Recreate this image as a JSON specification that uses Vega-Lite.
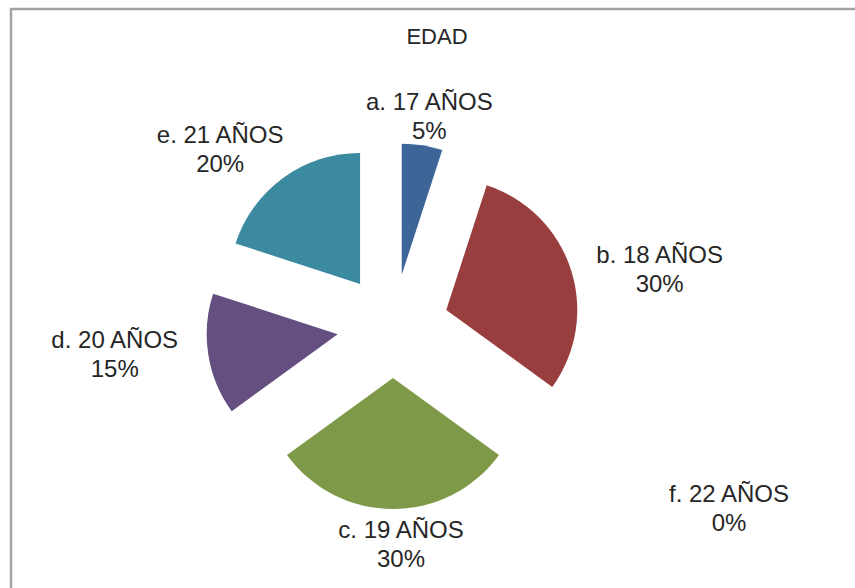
{
  "$schema": "https://vega.github.io/schema/vega-lite/v6.json",
  "autosize": "none",
  "padding": {"left": 11, "top": 9, "right": 0, "bottom": 0},
  "width": 880,
  "height": 634,
  "background": "#ffffff",
  "view": {"stroke": "#a3a3a3", "strokeWidth": 2.5, "fill": "#ffffff"},
  "config": {
    "font": "Liberation Sans"
  },
  "title": {
    "text": "EDAD",
    "fontSize": 22,
    "font": "Liberation Sans",
    "fontWeight": "normal",
    "color": "#262626",
    "offset": -40,
    "dx": -14
  },
  "data": {
    "values": [
      {"cat": "a. 17 AÑOS", "value": 5},
      {"cat": "b. 18 AÑOS", "value": 30},
      {"cat": "c. 19 AÑOS", "value": 30},
      {"cat": "d. 20 AÑOS", "value": 15},
      {"cat": "e. 21 AÑOS", "value": 20},
      {"cat": "f. 22 AÑOS", "value": 0}
    ]
  },
  "transform": [
    {"stack": "value", "groupby": [], "sort": [{"field": "cat", "order": "ascending"}], "as": ["v0", "v1"]}
  ],
  "layer": [
    {
      "mark": {
        "type": "arc",
        "outerRadius": 131,
        "xOffset": {"expr": "-58 + 56*sin((datum.v0+datum.v1)*PI/100)"},
        "yOffset": {"expr": "-52*cos((datum.v0+datum.v1)*PI/100)"}
      },
      "encoding": {
        "theta": {"field": "v0", "type": "quantitative", "stack": null, "scale": {"domain": [0, 100], "range": [0, 6.283185307179586]}},
        "theta2": {"field": "v1"},
        "color": {
          "field": "cat",
          "type": "nominal",
          "legend": null,
          "scale": {
            "domain": ["a. 17 AÑOS", "b. 18 AÑOS", "c. 19 AÑOS", "d. 20 AÑOS", "e. 21 AÑOS", "f. 22 AÑOS"],
            "range": ["#3d6597", "#993e3e", "#7e9a48", "#654f80", "#3c8aa0", "#f0904a"]
          }
        }
      }
    },
    {
      "mark": {
        "type": "text",
        "font": "Liberation Sans",
        "fontSize": 24,
        "lineHeight": 29,
        "align": "center",
        "baseline": "middle",
        "color": "#262626",
        "text": {"expr": "[datum.cat, datum.value + '%']"},
        "xOffset": {"expr": "-58 + (datum.value == 0 ? 336 : 283*sin((datum.v0+datum.v1)*PI/100) - 8*cos((datum.v0+datum.v1)*PI/100))"},
        "yOffset": {"expr": "-14 + (datum.value == 0 ? 183 : 3 - 216*cos((datum.v0+datum.v1)*PI/100) + 8*sin((datum.v0+datum.v1)*PI/100))"}
      },
      "encoding": {}
    }
  ]
}
